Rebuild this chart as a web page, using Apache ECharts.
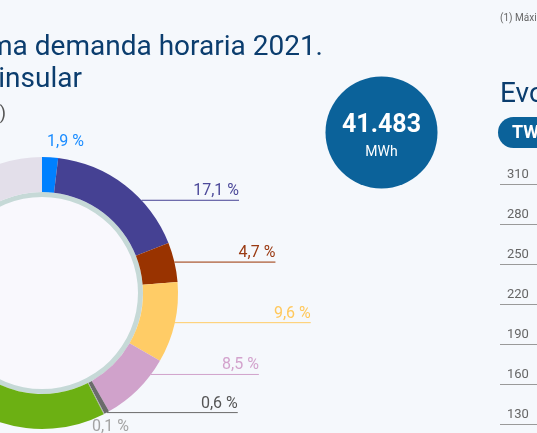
<!DOCTYPE html>
<html>
<head>
<meta charset="utf-8">
<script src="https://cdn.jsdelivr.net/npm/echarts@6/dist/echarts.min.js"></script>
<style>
  html, body { margin: 0; padding: 0; background: #f5f8fc; }
  #chart { width: 537px; height: 433px; }
</style>
</head>
<body>
<div id="chart"></div>
<script>
// cobertura de la punta, % por tecnologia (los dos ultimos no se leen en el recorte)
var sources = ['Hidráulica', 'Nuclear', 'Carbón', 'Ciclo combinado', 'Cogeneración',
  'Residuos no renovables', 'Residuos renovables', 'Eólica', 'Resto'];
var shares = [1.9, 17.1, 4.7, 9.6, 8.5, 0.6, 0.1, 30.0, 27.5];
var withLabel = [true, true, true, true, true, true, true, false, false];
var segColors = ['#0080ff', '#454193', '#993300', '#ffcc66', '#d0a2cb', '#6b6b6b', '#a8a8a8', '#6cb013', '#e3dfea'];
var labelColors = ['#1a8cff', '#4d4a9a', '#9a3a12', '#ffc85c', '#d3a3cd', '#555555', '#a3a3a3', '#6cb013', '#999999'];
var leaderLen = [0, 114, 101, 136, 121, 131, 0, 0, 0];
// desplazamiento vertical de la linea guia respecto al punto medio del sector
var leaderShift = [0, 15, 0, 0, -15, 0, 0, 0, 0];

var peakValue = '41.483';
var peakUnit = 'MWh';

// eje del grafico de evolucion (TWh)
var evoMin = 130;
var evoMax = 310;
var evoStep = 30;

var CENTER = [42, 293];
var R_OUT = 136;

var chart = echarts.init(document.getElementById('chart'));

var pieData = sources.map(function (name, i) {
  return {
    name: name,
    value: shares[i],
    itemStyle: { color: segColors[i] },
    label: { show: withLabel[i], color: labelColors[i] },
    labelLine: {
      show: withLabel[i],
      length: 0,
      length2: leaderLen[i],
      lineStyle: { color: segColors[i] }
    }
  };
});

var option = {
  backgroundColor: '#f5f8fc',
  animation: false,
  graphic: [
    {
      type: 'text', x: 323, y: 48,
      style: {
        text: 'Cobertura de la máxima demanda horaria 2021.',
        align: 'right', verticalAlign: 'middle',
        font: '28px Roboto', fill: '#0b3d6e'
      }
    },
    {
      type: 'text', x: 82, y: 80,
      style: {
        text: 'Sistema peninsular',
        align: 'right', verticalAlign: 'middle',
        font: '28px Roboto', fill: '#0b3d6e'
      }
    },
    {
      type: 'text', x: 6, y: 114,
      style: {
        text: '(%)', align: 'right', verticalAlign: 'middle',
        font: '18px Roboto', fill: '#555555'
      }
    },
    {
      type: 'circle', shape: { cx: 381.5, cy: 132.5, r: 56 },
      style: { fill: '#0b629a' }
    },
    {
      type: 'text', x: 381.5, y: 126,
      style: {
        text: peakValue, align: 'center', verticalAlign: 'middle',
        font: 'bold 25px Roboto', fill: '#ffffff'
      }
    },
    {
      type: 'text', x: 381.5, y: 152,
      style: {
        text: peakUnit, align: 'center', verticalAlign: 'middle',
        font: '14px Roboto', fill: '#ffffff'
      }
    },
    {
      type: 'text', x: 500, y: 18,
      style: {
        text: '(1) Máxima demanda horaria.', align: 'left', verticalAlign: 'middle',
        font: '10px Roboto', fill: '#666666'
      }
    },
    {
      type: 'text', x: 500, y: 95,
      style: {
        text: 'Evolución de la demanda', align: 'left', verticalAlign: 'middle',
        font: '28px Roboto', fill: '#0b3d6e'
      }
    },
    {
      type: 'rect', shape: { x: 498, y: 117, width: 90, height: 31, r: 15.5 },
      style: { fill: '#0b629a' }
    },
    {
      type: 'text', x: 512, y: 133,
      style: {
        text: 'TWh', align: 'left', verticalAlign: 'middle',
        font: 'bold 18px Roboto', fill: '#ffffff'
      }
    }
  ],
  grid: {
    left: 500, top: 184, width: 300, height: 240,
    containLabel: false, outerBoundsMode: 'none'
  },
  xAxis: { type: 'category', show: false, data: [] },
  yAxis: {
    type: 'value',
    min: evoMin, max: evoMax, interval: evoStep,
    axisLine: { show: false },
    axisTick: { show: false },
    axisLabel: {
      inside: true, margin: 7, verticalAlign: 'bottom',
      padding: [0, 0, 3, 0],
      color: '#666666', fontSize: 13, fontFamily: 'Roboto'
    },
    splitLine: { lineStyle: { color: '#9a9a9a', width: 1 } }
  },
  series: [
    {
      type: 'pie', silent: true,
      center: CENTER, radius: [0, 96],
      label: { show: false }, labelLine: { show: false },
      itemStyle: { color: '#f9f8fd' },
      data: [1]
    },
    {
      type: 'pie', silent: true,
      center: CENTER, radius: [96, 101],
      label: { show: false }, labelLine: { show: false },
      itemStyle: { color: '#c6d9d7' },
      data: [1]
    },
    {
      type: 'pie',
      center: CENTER,
      radius: [101, R_OUT],
      startAngle: 90,
      clockwise: true,
      avoidLabelOverlap: false,
      label: {
        position: 'outside',
        fontFamily: 'Roboto',
        fontSize: 16,
        formatter: function (p) {
          return p.value.toFixed(1).replace('.', ',') + ' %';
        }
      },
      labelLayout: function (p) {
        var pts = p.labelLinePoints;
        if (!pts) return {};
        var s = pts[0], e = pts[pts.length - 1];
        if (Math.abs(e[0] - s[0]) < 1) {
          if (s[1] < CENTER[1]) {
            return { x: s[0] - 3, y: s[1] - 7, align: 'left', verticalAlign: 'bottom', labelLinePoints: [s, s] };
          }
          return { x: s[0] - 12, y: s[1] + 5, align: 'left', verticalAlign: 'top', labelLinePoints: [s, s] };
        }
        var shift = leaderShift[p.dataIndex] || 0;
        var y = s[1] + shift;
        var dy = y - CENTER[1];
        var x0 = CENTER[0] + Math.sqrt(R_OUT * R_OUT - dy * dy);
        return {
          x: e[0], y: y - 1, align: 'right', verticalAlign: 'bottom',
          labelLinePoints: [[x0, y], [e[0], y]]
        };
      },
      data: pieData
    }
  ]
};

chart.setOption(option);
</script>
</body>
</html>
